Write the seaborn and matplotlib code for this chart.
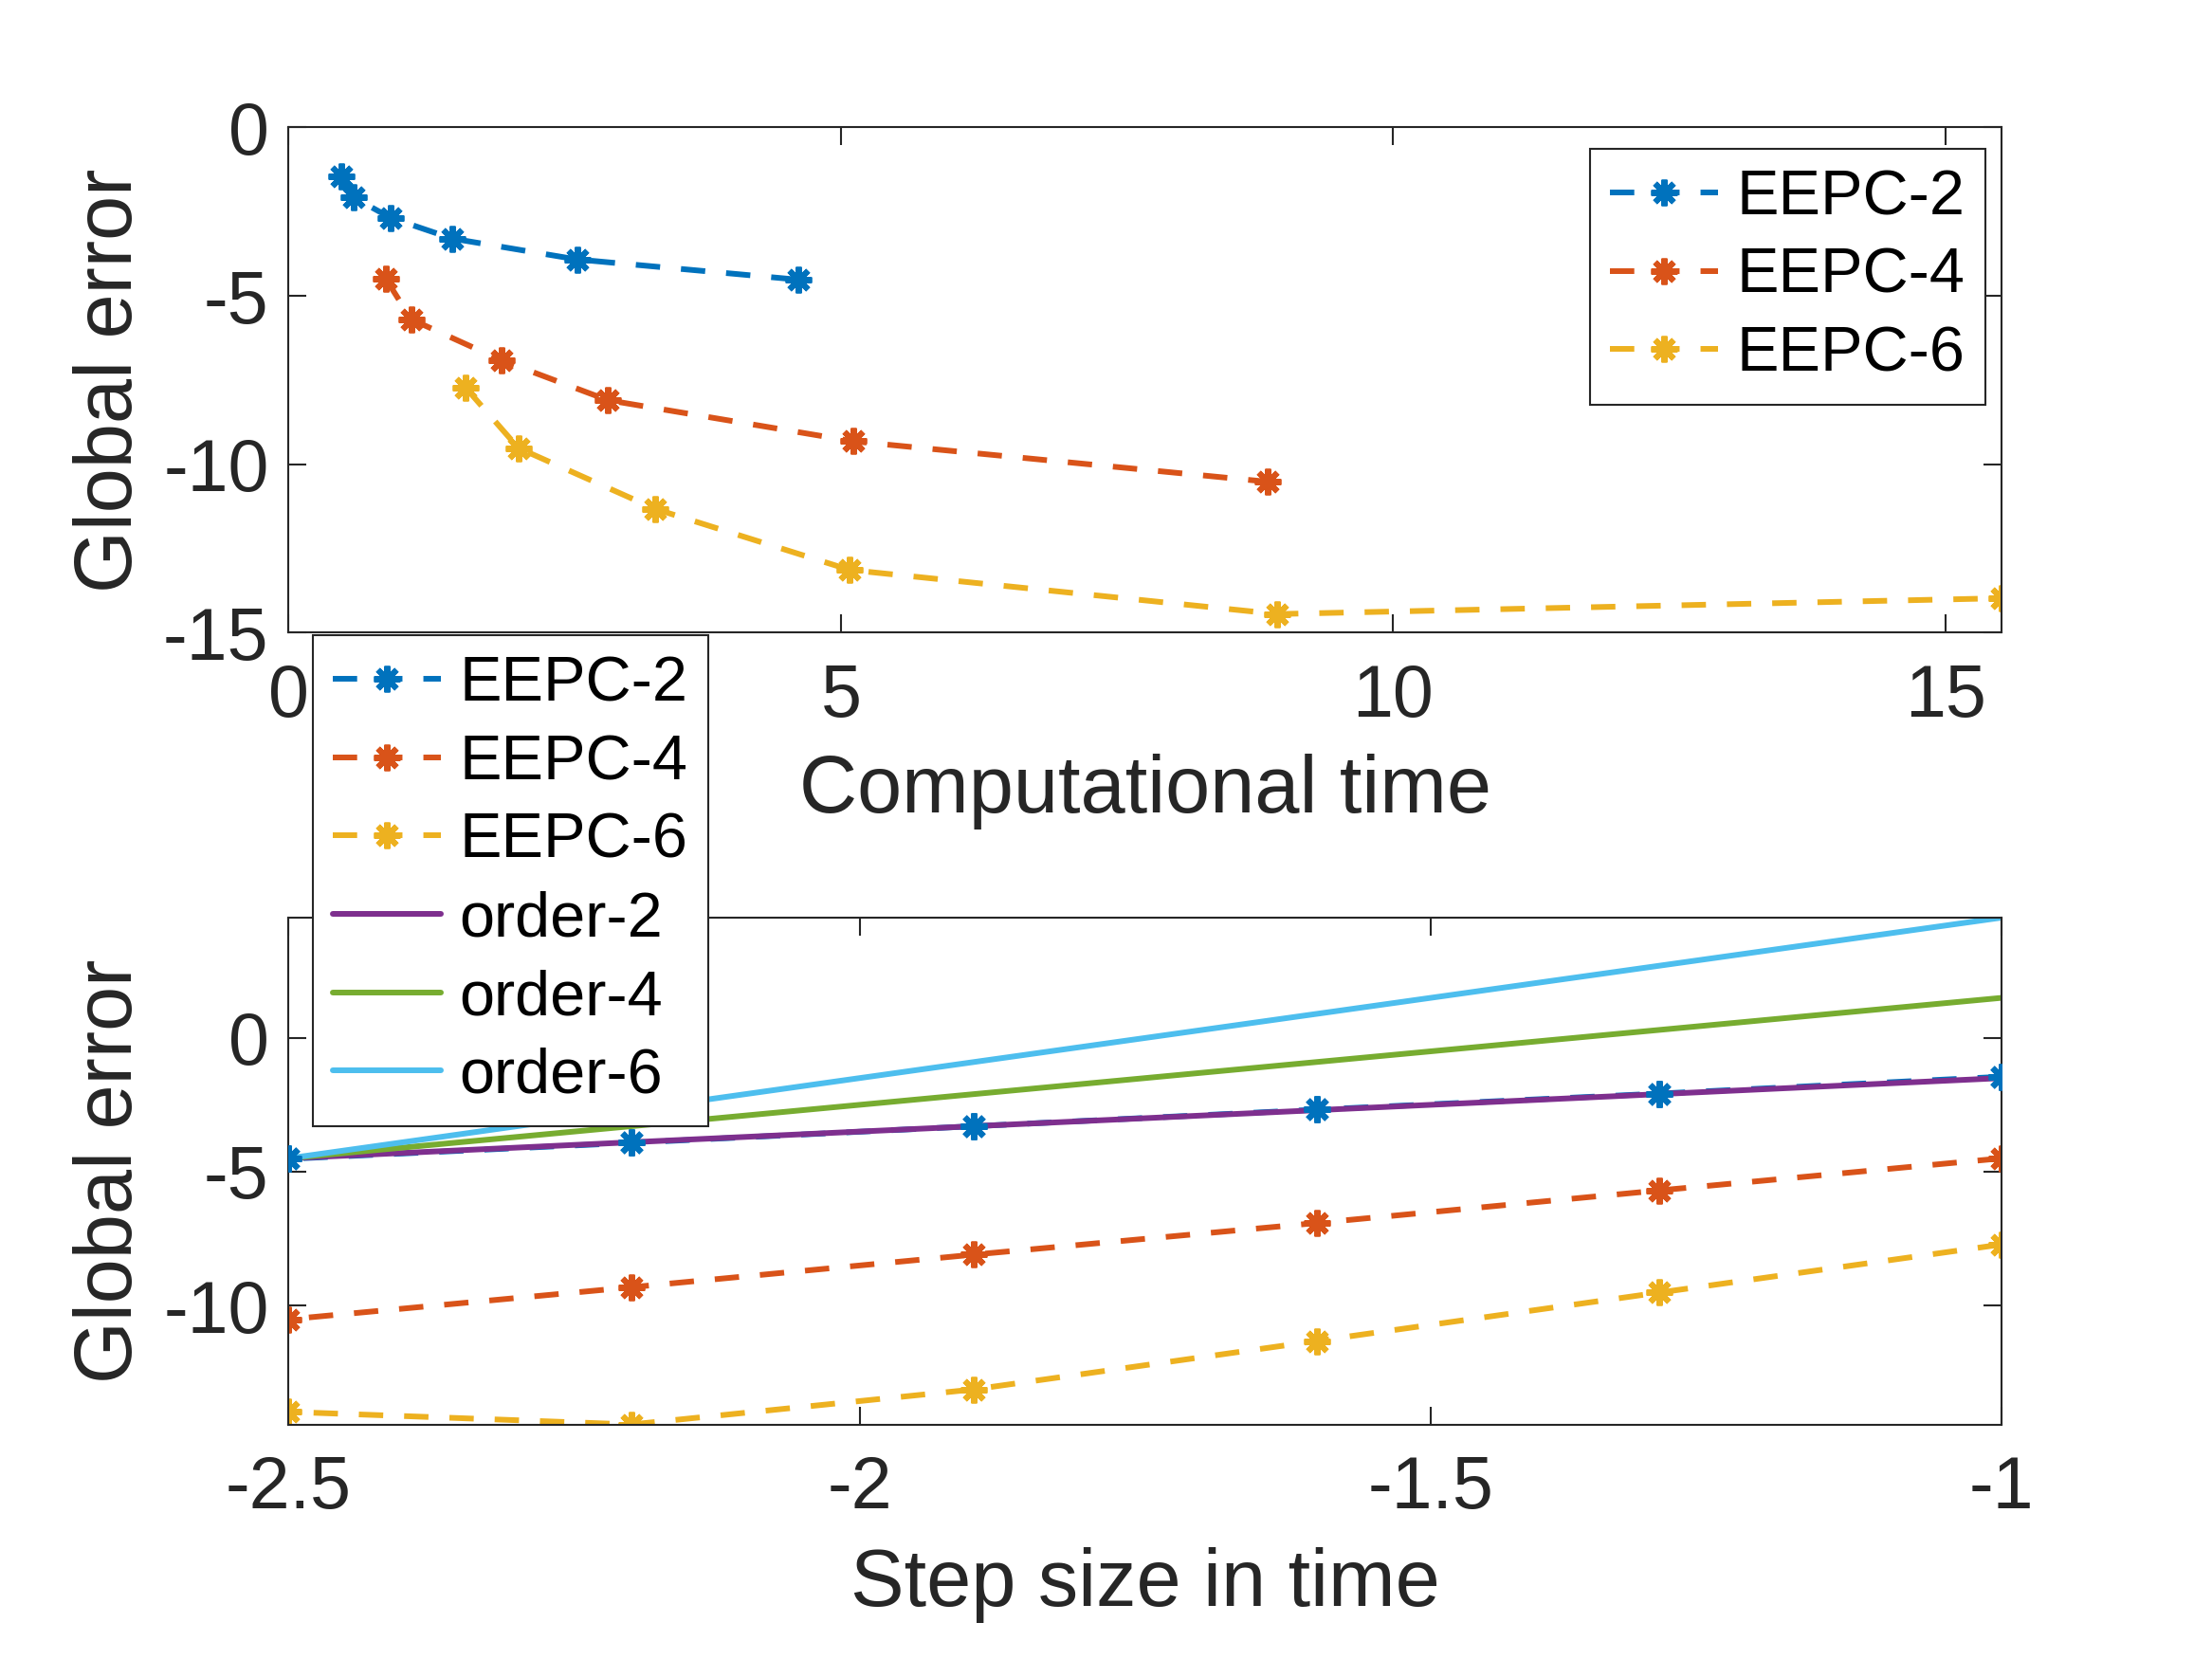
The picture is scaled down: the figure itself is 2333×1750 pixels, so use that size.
import numpy as np
import pandas as pd
import matplotlib
matplotlib.use("Agg")
import matplotlib.pyplot as plt
import seaborn as sns

# computational time (top panel) and global error, one list per method
time2 = [0.48, 0.59, 0.92, 1.48, 2.61, 4.61]
time4 = [0.88, 1.11, 1.93, 2.89, 5.11, 8.86]
time6 = [1.60, 2.08, 3.32, 5.08, 8.95, 15.51]
err2 = [-1.45, -2.08, -2.68, -3.30, -3.92, -4.52]
err4 = [-4.50, -5.70, -6.92, -8.10, -9.32, -10.52]
err6 = [-7.72, -9.52, -11.33, -13.14, -14.45, -13.98]

# step size in time (bottom panel), same runs, largest step first
steps = [-1.0, -1.3, -1.6, -1.9, -2.2, -2.5]

# reference slopes
order_x = [-2.5, -1.0]
order2 = [-4.5, -1.5]
order4 = [-4.5, 1.5]
order6 = [-4.5, 4.5]

names = ["EEPC-2", "EEPC-4", "EEPC-6"]
order_names = ["order-2", "order-4", "order-6"]
colors = ["#0072BD", "#D95319", "#EDB120"]
order_colors = ["#7E2F8E", "#77AC30", "#4DBEEE"]

sns.set_theme(style="ticks")
plt.rcParams['font.family'] = ['Liberation Sans', 'DejaVu Sans']
plt.rcParams['axes.edgecolor'] = '#262626'
plt.rcParams['axes.linewidth'] = 0.75

tick_fs = 27.8
label_fs = 30.5
legend_fs = 24
asterisk = (8, 2, 0)
lw = 2.15
dash = (0, (4.3, 3.7))
msize = 10
mew = 2.2

fig = plt.figure(figsize=(11.665, 8.75), dpi=200)
ax1 = fig.add_axes([0.1305, 0.6187, 0.7745, 0.3045])
ax2 = fig.add_axes([0.1305, 0.1414, 0.7745, 0.3055])

def style_axes(ax):
    ax.tick_params(direction='in', length=7, width=0.75, top=True, right=True,
                   labelsize=tick_fs, colors='#262626')
    ax.tick_params(axis='x', pad=11.5)
    ax.tick_params(axis='y', pad=7.5)
    for s in ax.spines.values():
        s.set_visible(True)
        s.set_color('#262626')
        s.set_linewidth(0.75)
    ax.grid(False)

def make_legend(ax, loc, anchor):
    leg = ax.legend(loc=loc, bbox_to_anchor=anchor,
                    bbox_transform=fig.transFigure, borderaxespad=0,
                    fontsize=legend_fs, frameon=True, fancybox=False,
                    edgecolor='#262626', framealpha=1, handlelength=1.7,
                    handletextpad=0.3, labelspacing=0.31, borderpad=0.32)
    leg.get_frame().set_linewidth(0.75)
    for t in leg.get_texts():
        t.set_color('black')
    return leg

# top panel: error vs computational time
top_sets = [(time2, err2), (time4, err4), (time6, err6)]
for (t, e), name, c in zip(top_sets, names, colors):
    df = pd.DataFrame({"time": t, "err": e})
    sns.lineplot(data=df, x="time", y="err", ax=ax1, color=c, label=name,
                 estimator=None, sort=False, linewidth=lw, dashes=False,
                 linestyle=dash, marker=asterisk, markersize=msize,
                 markeredgewidth=mew, markeredgecolor=c)

ax1.set_xlim(0, time6[-1])
ax1.set_ylim(-15, 0)
ax1.set_xticks([0, 5, 10, 15])
ax1.set_yticks([-15, -10, -5, 0])
ax1.set_yticklabels(["-15", "-10", "-5", "0"])
style_axes(ax1)
ax1.set_xlabel("Computational time", fontsize=label_fs, color='#262626')
ax1.set_ylabel("Global error", fontsize=label_fs, color='#262626')
ax1.xaxis.set_label_coords(0.5, -0.315)
ax1.xaxis.label.set_va('center')
ax1.yaxis.set_label_coords(-0.104, 0.5)
ax1.yaxis.label.set_va('center')
make_legend(ax1, 'upper right', (0.8975, 0.9103))

# bottom panel: error vs step size with reference orders
for e, name, c in zip([err2, err4, err6], names, colors):
    df = pd.DataFrame({"step": steps, "err": e})
    sns.lineplot(data=df, x="step", y="err", ax=ax2, color=c, label=name,
                 estimator=None, sort=False, linewidth=lw, dashes=False,
                 linestyle=dash, marker=asterisk, markersize=msize,
                 markeredgewidth=mew, markeredgecolor=c)
for o, name, c in zip([order2, order4, order6], order_names, order_colors):
    df = pd.DataFrame({"step": order_x, "err": o})
    sns.lineplot(data=df, x="step", y="err", ax=ax2, color=c, label=name,
                 estimator=None, sort=False, linewidth=lw)

# EEPC-2 markers stay visible over the order-2 line
df = pd.DataFrame({"step": steps, "err": err2})
sns.lineplot(data=df, x="step", y="err", ax=ax2, color=colors[0],
             estimator=None, sort=False, linestyle='none', marker=asterisk,
             markersize=msize, markeredgewidth=mew,
             markeredgecolor=colors[0], legend=False, zorder=5)

ax2.set_xlim(-2.5, -1)
ax2.set_ylim(min(err6), max(order6))
ax2.set_xticks([-2.5, -2, -1.5, -1])
ax2.set_xticklabels(["-2.5", "-2", "-1.5", "-1"])
ax2.set_yticks([-10, -5, 0])
ax2.set_yticklabels(["-10", "-5", "0"])
style_axes(ax2)
ax2.set_xlabel("Step size in time", fontsize=label_fs, color='#262626')
ax2.set_ylabel("Global error", fontsize=label_fs, color='#262626')
ax2.xaxis.set_label_coords(0.5, -0.317)
ax2.xaxis.label.set_va('center')
ax2.yaxis.set_label_coords(-0.104, 0.5)
ax2.yaxis.label.set_va('center')
make_legend(ax2, 'upper left', (0.1414, 0.6171))

fig.savefig("out.png", dpi=200, facecolor='white')
